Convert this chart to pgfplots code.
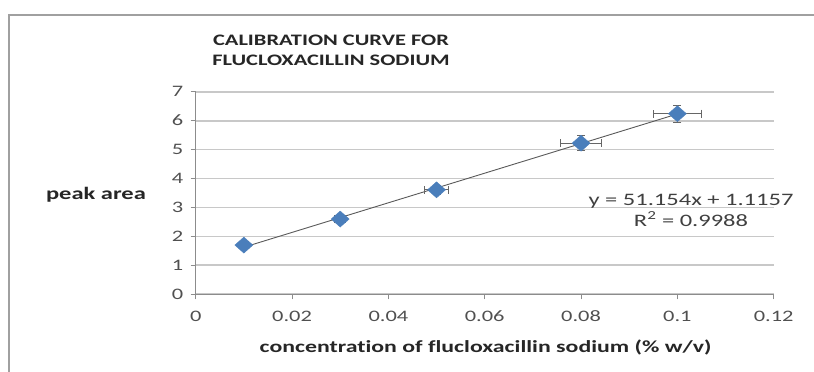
\documentclass[border=0pt]{standalone}
\usepackage{pgfplots}
\pgfplotsset{compat=1.18}
\usepackage{pgfplotstable}
\usepackage{fontspec}
\setmainfont{Carlito}
\newfontfamily\calfont[FakeStretch=1.4, Ligatures=NoCommon]{Carlito}
\definecolor{mkblue}{RGB}{74,126,187}
\definecolor{gridc}{RGB}{200,200,200}
\definecolor{axc}{RGB}{140,140,140}
\definecolor{tickc}{RGB}{80,80,80}
\pgfplotstableread{
x y ex ey
0.01 1.70 0.001 0.12
0.03 2.60 0.0012 0.12
0.05 3.61 0.0025 0.15
0.08 5.22 0.0042 0.25
0.10 6.24 0.005 0.30
}\datatab
\begin{document}
\begin{tikzpicture}[x=1pt,y=1pt]
\path[use as bounding box] (0,0) rectangle (814,372);
\draw[color=gridc!80!black, line width=1.5pt] (9,0)--(9,357)--(814,357);
\begin{axis}[
  at={(195.7pt,77.7pt)}, anchor=south west,
  scale only axis, width=578pt, height=202.6pt,
  xmin=0, xmax=0.12, ymin=0, ymax=7,
  axis x line=bottom, axis y line=left,
  axis line style={-, draw=axc, line width=0.8pt},
  xtick={0,0.02,0.04,0.06,0.08,0.1,0.12},
  xticklabels={0,0.02,0.04,0.06,0.08,0.1,0.12},
  ytick={0,1,...,7},
  tick align=outside,
  major tick length=5pt,
  tick style={draw=axc, line width=0.8pt},
  ymajorgrids,
  grid style={draw=gridc, line width=1.8pt},
  ticklabel style={font=\calfont\fontsize{16}{16}\selectfont, text=tickc},
  /pgf/number format/assume math mode=true,
  xticklabel style={yshift=-8pt},
  yticklabel style={xshift=-4pt},
  clip=false,
]
\addplot[color=black!65, line width=0.9pt] coordinates {(0.01,1.627) (0.1,6.231)};
\addplot[only marks, mark=diamond*, mark size=8pt,
  mark options={xscale=1.5, fill=mkblue, draw=mkblue},
  error bars/.cd, x dir=both, x explicit, y dir=both, y explicit,
  error bar style={color=black!60, line width=1pt},
  error mark options={rotate=90, mark size=4pt, color=black!60, line width=1pt}]
  table[x=x, y=y, x error=ex, y error=ey] {\datatab};
\end{axis}
\node[font=\calfont\bfseries\fontsize{16}{20}\selectfont, text=black!85, align=center] at (331,322) {CALIBRATION CURVE FOR\\FLUCLOXACILLIN SODIUM};
\node[font=\calfont\bfseries\fontsize{17.5}{17.5}\selectfont, text=black!85] at (96,177) {peak area};
\node[font=\calfont\bfseries\fontsize{17}{17}\selectfont, text=black!85] at (485.5,25) {concentration of flucloxacillin sodium (\% w/v)};
\node[font=\calfont\fontsize{17.5}{21}\selectfont, text=black!75, align=center] at (691,162) {y = 51.154x + 1.1157\\R\textsuperscript{2} = 0.9988};
\end{tikzpicture}
\end{document}
